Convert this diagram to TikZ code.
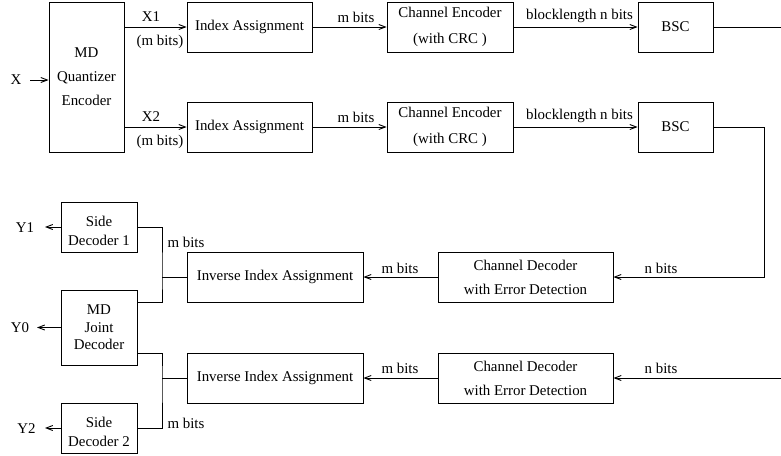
\documentclass[tikz,border=0pt]{standalone}
\usepackage{fontspec}
\setmainfont{Liberation Serif}
\usetikzlibrary{arrows.meta}
\begin{document}
\begin{tikzpicture}[x=1pt,y=-1pt,
  blk/.style={draw, line width=0.9pt, inner sep=0pt, align=center,
    font=\fontsize{14.9}{24}\selectfont},
  wide/.style={minimum width=#1, minimum height=50pt},
  lbl/.style={inner sep=0pt, font=\fontsize{14.9}{18}\selectfont},
  wire/.style={line width=0.9pt},
  arr/.style={wire, -{Straight Barb[length=6.5pt,width=5pt]}},
]
\useasboundingbox (0,0) rectangle (781,455);

% transmitter side
\node[blk, minimum width=75pt, minimum height=150pt] (enc) at (86.5,77) {MD\\Quantizer\\Encoder};
\node[blk, wide=125pt] (ia1) at (249.5,27) {Index Assignment};
\node[blk, wide=125pt] (ia2) at (249.5,127) {Index Assignment};
\node[blk, wide=126pt, font=\fontsize{14.9}{26}\selectfont] (ce1) at (450,27) {Channel Encoder\\(with CRC )};
\node[blk, wide=126pt, font=\fontsize{14.9}{26}\selectfont] (ce2) at (450,127) {Channel Encoder\\(with CRC )};
\node[blk, wide=75pt] (bsc1) at (675.5,27) {BSC};
\node[blk, wide=75pt] (bsc2) at (675.5,127) {BSC};

% receiver side
\node[blk, wide=176pt] (iia1) at (275,277) {Inverse Index Assignment};
\node[blk, wide=176pt] (iia2) at (275,378) {Inverse Index Assignment};
\node[blk, wide=175pt] (cd1) at (525.5,277) {Channel Decoder\\with Error Detection};
\node[blk, wide=175pt, line width=1pt] (cd2) at (525.5,378) {Channel Decoder\\with Error Detection};
\node[blk, wide=76pt, font=\fontsize{14.9}{19}\selectfont, text height=38pt] (sd1) at (99,227) {Side\\Decoder 1};
\node[blk, minimum width=76pt, minimum height=75pt, font=\fontsize{14.9}{17.5}\selectfont] (mdj) at (99,327.5) {MD\\Joint\\Decoder};
\node[blk, wide=76pt, font=\fontsize{14.9}{19}\selectfont, text height=38pt] (sd2) at (99,428) {Side\\Decoder 2};

% free ends and corners
\coordinate (xin) at (30,80);
\coordinate (out1) at (781,27);
\coordinate (turn) at (764,127);
\coordinate (in2) at (781,378);
\coordinate (j1) at (162,277);
\coordinate (j2) at (162,378);
\coordinate (y1) at (45,227);
\coordinate (y0) at (37,327.5);
\coordinate (y2) at (45,428);

% forward path
\draw[arr] (xin) -- (enc.west |- xin);
\draw[arr] (enc.east |- ia1) -- (ia1.west);
\draw[arr] (enc.east |- ia2) -- (ia2.west);
\draw[arr] (ia1) -- (ce1);
\draw[arr] (ia2) -- (ce2);
\draw[arr] (ce1) -- (bsc1);
\draw[arr] (ce2) -- (bsc2);
\draw[wire] (bsc1.east) -- (out1);
\draw[arr] (bsc2.east) -- (turn) |- (cd1.east);
\draw[arr] (in2) -- (cd2.east);

% decoding path
\draw[arr] (cd1) -- (iia1);
\draw[arr] (cd2) -- (iia2);
\draw[wire] (sd1.east) -| (j1) |- ([yshift=25.5pt]mdj.east);
\draw[wire] (j1) -- (iia1.west);
\draw[wire] ([yshift=-25.5pt]mdj.east) -| (j2) |- (sd2.east);
\draw[wire] (j2) -- (iia2.west);
\draw[arr] (sd1.west) -- (y1);
\draw[arr] (mdj.west) -- (y0);
\draw[arr] (sd2.west) -- (y2);

% signal labels
\node[lbl] (lx) at (16,80) {X};
\node[lbl] (lx1) at (151,17) {X1};
\node[lbl] (lm1) at (160,42) {(m bits)};
\node[lbl] (lx2) at (151,117) {X2};
\node[lbl] (lm2) at (160,142) {(m bits)};
\node[lbl] (la1) at (356,17) {m bits};
\node[lbl] (la2) at (356,117) {m bits};
\node[lbl] (lb1) at (579.5,16) {blocklength n bits};
\node[lbl] (lb2) at (579.5,116) {blocklength n bits};
\node[lbl] (ln1) at (661,268) {n bits};
\node[lbl] (ln2) at (661,368) {n bits};
\node[lbl] (lr1) at (400,268) {m bits};
\node[lbl] (lr2) at (400,368) {m bits};
\node[lbl] (ls1) at (186,242) {m bits};
\node[lbl] (ls2) at (186,423) {m bits};
\node[lbl] (ly1) at (25,228) {Y1};
\node[lbl] (ly0) at (20,328) {Y0};
\node[lbl] (ly2) at (26.5,429) {Y2};
\end{tikzpicture}
\end{document}
